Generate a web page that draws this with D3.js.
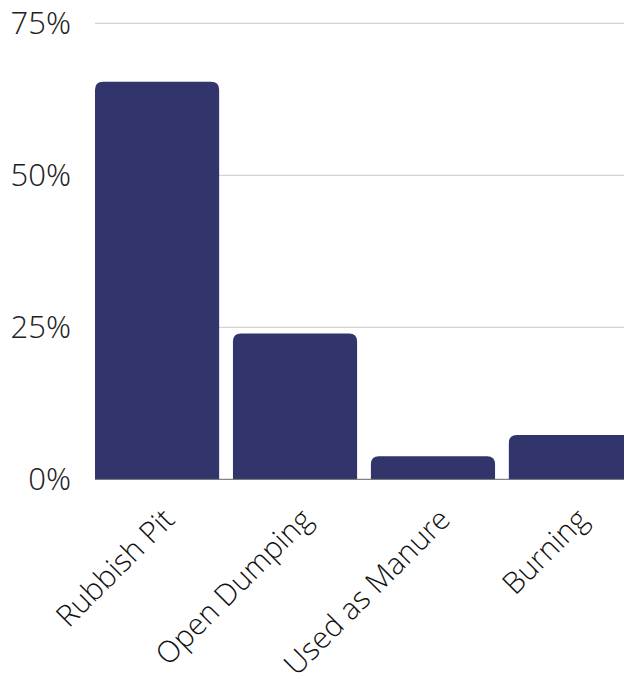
<!DOCTYPE html>
<html>
<head>
<meta charset="utf-8">
<script src="https://cdn.jsdelivr.net/npm/d3@7"></script>
<style>
  html, body { margin: 0; padding: 0; background: #fff; }
  svg { display: block; font-family: "Open Sans Light", "Open Sans", sans-serif; font-weight: 300; }
</style>
</head>
<body>
<svg id="chart" width="624" height="679"></svg>
<script>
// Waste disposal methods, share of households (%)
const categories = ["Rubbish Pit", "Open Dumping", "Used as Manure", "Burning"];
const shares = [65.4, 24.0, 3.8, 7.3];
const yTicks = [0, 25, 50, 75];

(function () {
  const svg = d3.select("#chart");
  const W = 624;
  const plotLeft = 95, plotTop = 23.3, plotBottom = 479.3;

  const x = d3.scaleBand()
    .domain(categories)
    .range([plotLeft, 633])
    .paddingInner(0.1)
    .paddingOuter(0);

  const y = d3.scaleLinear().domain([0, 75]).range([plotBottom, plotTop]);

  // horizontal gridlines
  svg.append("g")
    .selectAll("line")
    .data(yTicks.filter(d => d > 0))
    .join("line")
    .attr("x1", plotLeft).attr("x2", W)
    .attr("y1", d => y(d)).attr("y2", d => y(d))
    .attr("stroke", "#c8c8c8")
    .attr("stroke-width", 1);

  // y tick labels
  svg.append("g")
    .selectAll("text")
    .data(yTicks)
    .join("text")
    .attr("x", 71)
    .attr("y", d => y(d))
    .attr("dy", "0.36em")
    .attr("text-anchor", "end")
    .attr("font-size", 31)
    .attr("fill", "#222")
    .text(d => d + "%");

  // bars with rounded top corners
  const r = 8;
  function barPath(d, i) {
    const x0 = x(categories[i]), w = x.bandwidth();
    const y0 = y(d), y1 = y(0);
    const rr = Math.min(r, (y1 - y0));
    return `M${x0},${y1}V${y0 + rr}Q${x0},${y0} ${x0 + rr},${y0}` +
           `H${x0 + w - rr}Q${x0 + w},${y0} ${x0 + w},${y0 + rr}V${y1}Z`;
  }
  svg.append("g")
    .selectAll("path")
    .data(shares)
    .join("path")
    .attr("d", barPath)
    .attr("fill", "#31356b");

  // baseline
  svg.append("line")
    .attr("x1", plotLeft).attr("x2", W)
    .attr("y1", y(0)).attr("y2", y(0))
    .attr("stroke", "#666")
    .attr("stroke-width", 1);

  // rotated category labels
  svg.append("g")
    .selectAll("text")
    .data(categories)
    .join("text")
    .attr("transform", d => `translate(${x(d) + x.bandwidth() / 2 + 19},${plotBottom + 42}) rotate(-45)`)
    .attr("text-anchor", "end")
    .attr("font-size", 30)
    .attr("fill", "#111")
    .text(d => d);
})();
</script>
</body>
</html>
